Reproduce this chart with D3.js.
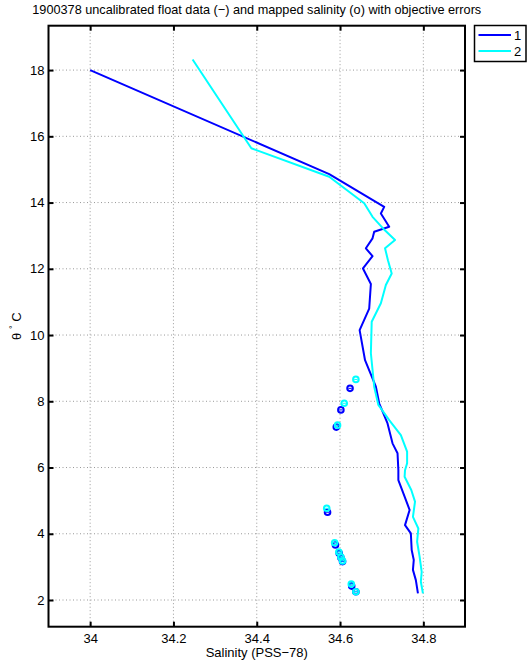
<!DOCTYPE html>
<html>
<head>
<meta charset="utf-8">
<script src="https://cdn.jsdelivr.net/npm/d3@7"></script>
<style>
  body { margin: 0; background: #fff; }
  svg text { font-family: "Liberation Sans", Arial, sans-serif; fill: #000; }
</style>
</head>
<body>
<div id="chart"></div>
<script>
// DATA
const floatSal1 = [34.000, 34.574, 34.706, 34.698, 34.718, 34.682, 34.678, 34.662, 34.678, 34.655, 34.674, 34.670, 34.647, 34.660, 34.686, 34.694, 34.714, 34.726, 34.738, 34.740, 34.740, 34.755, 34.767, 34.756, 34.770, 34.772, 34.777, 34.775, 34.782, 34.787];
const floatTheta1 = [18.00, 14.86, 13.87, 13.67, 13.27, 13.12, 12.92, 12.62, 12.38, 12.01, 11.54, 10.80, 10.15, 9.24, 8.44, 7.94, 7.33, 6.73, 6.43, 5.92, 5.62, 5.12, 4.72, 4.26, 4.01, 3.51, 3.21, 2.91, 2.60, 2.20];
const floatSal2 = [34.246, 34.387, 34.574, 34.658, 34.678, 34.707, 34.732, 34.708, 34.715, 34.724, 34.710, 34.698, 34.676, 34.674, 34.682, 34.692, 34.718, 34.746, 34.761, 34.761, 34.756, 34.755, 34.771, 34.780, 34.775, 34.788, 34.785, 34.791, 34.796, 34.794, 34.799];
const floatTheta2 = [18.32, 15.64, 14.78, 13.98, 13.57, 13.17, 12.87, 12.62, 12.26, 11.86, 11.51, 10.96, 10.40, 9.45, 8.44, 7.89, 7.43, 6.98, 6.48, 6.13, 5.92, 5.72, 5.32, 4.97, 4.51, 4.16, 3.76, 3.31, 2.85, 2.55, 2.20];

const mapSal1 = [34.624, 34.602, 34.591, 34.570, 34.589, 34.598, 34.602, 34.606, 34.628, 34.638];
const mapTheta1 = [8.39, 7.74, 7.22, 4.65, 3.66, 3.41, 3.28, 3.16, 2.42, 2.25];
const mapSal2 = [34.638, 34.610, 34.594, 34.568, 34.587, 34.597, 34.602, 34.606, 34.627, 34.638];
const mapTheta2 = [8.66, 7.94, 7.28, 4.77, 3.73, 3.45, 3.30, 3.18, 2.48, 2.25];
const mapErr1 = [0.004, 0.004, 0.004, 0.004, 0.004, 0.004, 0.004, 0.004, 0.004, 0.004];
const mapErr2 = [0.004, 0.004, 0.004, 0.004, 0.004, 0.004, 0.004, 0.004, 0.004, 0.004];

const xTicks = [34, 34.2, 34.4, 34.6, 34.8];
const yTicks = [2, 4, 6, 8, 10, 12, 14, 16, 18];
const seriesNames = ['1', '2'];
const colors = ['#0000ff', '#00ffff'];

// LAYOUT
const width = 528;
const height = 668;
const plot = { left: 48.5, right: 465, top: 25.7, bottom: 626.7 };

const svg = d3.select('#chart').append('svg')
  .attr('width', width)
  .attr('height', height);

const x = d3.scaleLinear().domain([33.9, 34.9]).range([plot.left, plot.right]);
const y = d3.scaleLinear().domain([1.194, 19.34]).range([plot.bottom, plot.top]);

// GRID
const grid = svg.append('g')
  .attr('stroke', '#999')
  .attr('stroke-width', 1)
  .attr('stroke-dasharray', '1,2.5');
grid.selectAll('.gx').data(xTicks).enter().append('line')
  .attr('x1', d => x(d)).attr('x2', d => x(d))
  .attr('y1', plot.top).attr('y2', plot.bottom);
grid.selectAll('.gy').data(yTicks).enter().append('line')
  .attr('y1', d => y(d)).attr('y2', d => y(d))
  .attr('x1', plot.left).attr('x2', plot.right);

// AXES (inward ticks, box)
const tickLen = 5;
const axB = svg.append('g').attr('transform', `translate(0,${plot.bottom})`)
  .call(d3.axisBottom(x).tickValues(xTicks).tickSizeInner(-tickLen).tickSizeOuter(0).tickPadding(7).tickFormat(d3.format('')));
const axT = svg.append('g').attr('transform', `translate(0,${plot.top})`)
  .call(d3.axisTop(x).tickValues(xTicks).tickSizeInner(-tickLen).tickSizeOuter(0).tickFormat(''));
const axL = svg.append('g').attr('transform', `translate(${plot.left},0)`)
  .call(d3.axisLeft(y).tickValues(yTicks).tickSizeInner(-tickLen).tickSizeOuter(0).tickPadding(4));
const axR = svg.append('g').attr('transform', `translate(${plot.right},0)`)
  .call(d3.axisRight(y).tickValues(yTicks).tickSizeInner(-tickLen).tickSizeOuter(0).tickFormat(''));

[axB, axT, axL, axR].forEach(a => {
  a.select('.domain').remove();
  a.selectAll('.tick line').attr('stroke', '#000').attr('stroke-width', 2);
  a.selectAll('.tick text').attr('font-size', 13).attr('font-family', '"Liberation Sans", Arial, sans-serif').attr('fill', '#000');
});

// DATA LINES AND MARKERS
const line = d3.line().x(d => x(d[0])).y(d => y(d[1]));
const series = [
  { sal: floatSal1, th: floatTheta1, ms: mapSal1, mt: mapTheta1, me: mapErr1 },
  { sal: floatSal2, th: floatTheta2, ms: mapSal2, mt: mapTheta2, me: mapErr2 }
];
series.forEach((s, i) => {
  svg.append('path')
    .datum(d3.zip(s.sal, s.th))
    .attr('d', line)
    .attr('fill', 'none')
    .attr('stroke', colors[i])
    .attr('stroke-width', 2)
    .attr('stroke-linejoin', 'round');
});
series.forEach((s, i) => {
  const pts = d3.zip(s.ms, s.mt, s.me);
  const g = svg.append('g');
  g.selectAll('line').data(pts).enter().append('line')
    .attr('x1', d => x(d[0] - d[2])).attr('x2', d => x(d[0] + d[2]))
    .attr('y1', d => y(d[1])).attr('y2', d => y(d[1]))
    .attr('stroke', colors[i]).attr('stroke-width', 1);
  g.selectAll('circle').data(pts).enter().append('circle')
    .attr('cx', d => x(d[0]))
    .attr('cy', d => y(d[1]))
    .attr('r', 2.8)
    .attr('fill', 'none')
    .attr('stroke', colors[i])
    .attr('stroke-width', 2);
});

// BOX
svg.append('rect')
  .attr('x', plot.left).attr('y', plot.top)
  .attr('width', plot.right - plot.left).attr('height', plot.bottom - plot.top)
  .attr('fill', 'none').attr('stroke', '#000').attr('stroke-width', 2);

// TEXTS
svg.append('text')
  .attr('x', (plot.left + plot.right) / 2)
  .attr('y', 14)
  .attr('text-anchor', 'middle')
  .attr('font-size', 12.7)
  .text('1900378 uncalibrated float data (\u2212) and mapped salinity (o) with objective errors');

svg.append('text')
  .attr('x', (plot.left + plot.right) / 2)
  .attr('y', 657)
  .attr('text-anchor', 'middle')
  .attr('font-size', 13)
  .text('Salinity (PSS\u221278)');

const yl = svg.append('text')
  .attr('transform', `translate(21,${(plot.top + plot.bottom) / 2}) rotate(-90)`)
  .attr('text-anchor', 'middle')
  .attr('font-size', 13);
yl.append('tspan').text('\u03b8 ');
yl.append('tspan').attr('dy', -5).attr('font-size', 9).text('\u00b0');
yl.append('tspan').attr('dy', 5).text(' C');

// LEGEND
const leg = svg.append('g');
leg.append('rect')
  .attr('x', 474.5).attr('y', 25.5).attr('width', 51.5).attr('height', 36)
  .attr('fill', '#fff').attr('stroke', '#000').attr('stroke-width', 1.5);
seriesNames.forEach((name, i) => {
  const ly = 35 + i * 16;
  leg.append('line')
    .attr('x1', 478.5).attr('x2', 511).attr('y1', ly).attr('y2', ly)
    .attr('stroke', colors[i]).attr('stroke-width', 2);
  leg.append('text')
    .attr('x', 514).attr('y', ly + 4.5)
    .attr('font-size', 13)
    .text(name);
});
</script>
</body>
</html>
